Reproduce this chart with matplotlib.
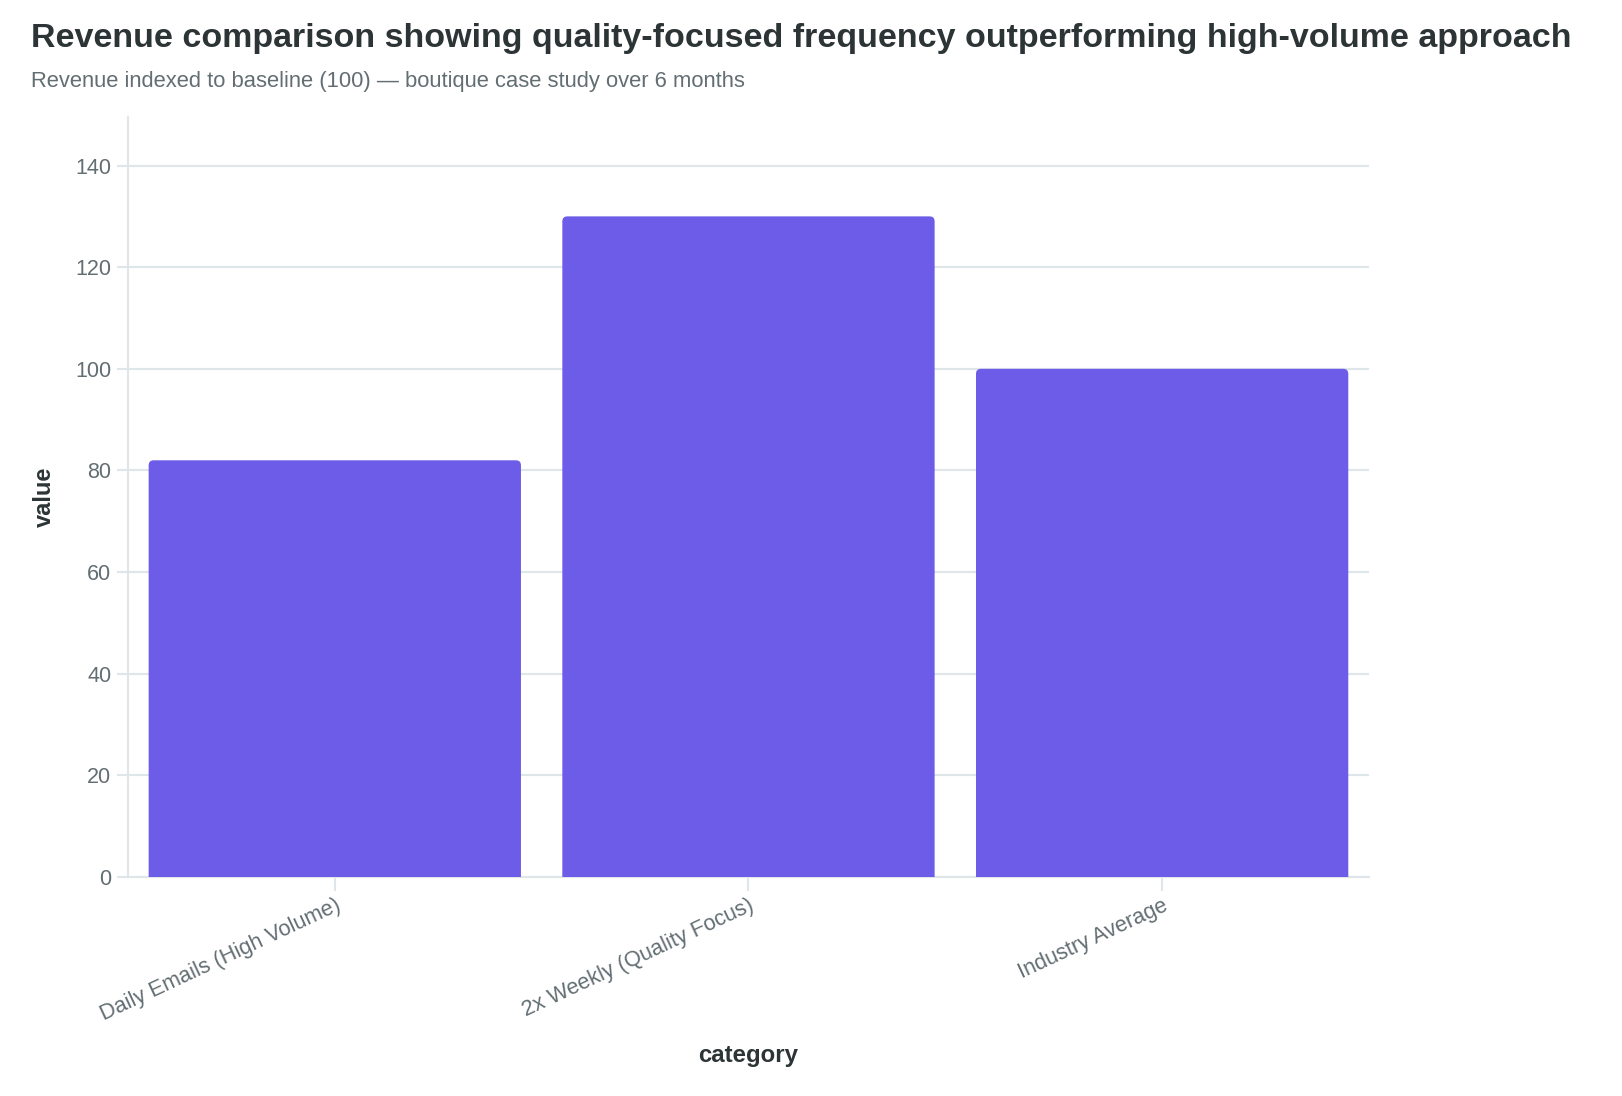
import matplotlib
matplotlib.use("Agg")
import matplotlib.pyplot as plt
from matplotlib.patches import FancyBboxPatch

categories = ["Daily Emails (High Volume)", "2x Weekly (Quality Focus)", "Industry Average"]
values = [82, 130, 100]
y_ticks = [0, 20, 40, 60, 80, 100, 120, 140]

BAR = "#6c5ce7"
GRID = "#dfe6e9"
DARK = "#2d3436"
GREY = "#636e72"

plt.rcParams["font.family"] = ["Liberation Sans", "DejaVu Sans"]

fig = plt.figure(figsize=(16.22, 10.96), dpi=100)
ax = fig.add_axes([0.0789, 0.1998, 0.7651, 0.6932])

x = list(range(len(categories)))
bars = ax.bar(x, values, width=0.9, color=BAR, zorder=3)

# swap plain bars for ones with rounded top corners
for b in bars:
    b.set_visible(False)
    patch = FancyBboxPatch(
        (b.get_x(), b.get_y() - 3), b.get_width(), b.get_height() + 3,
        boxstyle="round,pad=0,rounding_size=0.012",
        mutation_aspect=83, facecolor=BAR, edgecolor="none", zorder=3,
    )
    ax.add_patch(patch)

ax.set_xlim(-0.5, 2.5)
ax.set_ylim(0, 149.5)
ax.set_yticks(y_ticks)
ax.set_xticks(x)
ax.set_xticklabels(categories, rotation=25, ha="right", rotation_mode="anchor")

ax.grid(axis="y", color=GRID, linewidth=1.5, zorder=0)
ax.grid(axis="x", visible=False)
for side in ["top", "right"]:
    ax.spines[side].set_visible(False)
for side in ["left", "bottom"]:
    ax.spines[side].set_color(GRID)
    ax.spines[side].set_linewidth(1.5)

ax.tick_params(axis="y", length=8, width=1.5, color=GRID, labelcolor=GREY,
               labelsize=15.5, pad=4)
ax.tick_params(axis="x", length=10, width=1.5, color=GRID, labelcolor=GREY,
               labelsize=15.7, pad=3)

fig.text(0.0275, 0.5 * (0.1998 + 0.893), "value", rotation=90,
         ha="center", va="center", fontsize=17, fontweight="bold", color=DARK)
fig.text(0.4615, 0.037, "category", ha="center", va="center",
         fontsize=17.3, fontweight="bold", color=DARK)

fig.text(0.019, 0.965,
         "Revenue comparison showing quality-focused frequency outperforming high-volume approach",
         ha="left", va="center", fontsize=24.5, fontweight="bold", color=DARK)
fig.text(0.019, 0.926,
         "Revenue indexed to baseline (100) \u2014 boutique case study over 6 months",
         ha="left", va="center", fontsize=15.8, color=GREY)

fig.savefig("out.png", dpi=100, facecolor="white")
